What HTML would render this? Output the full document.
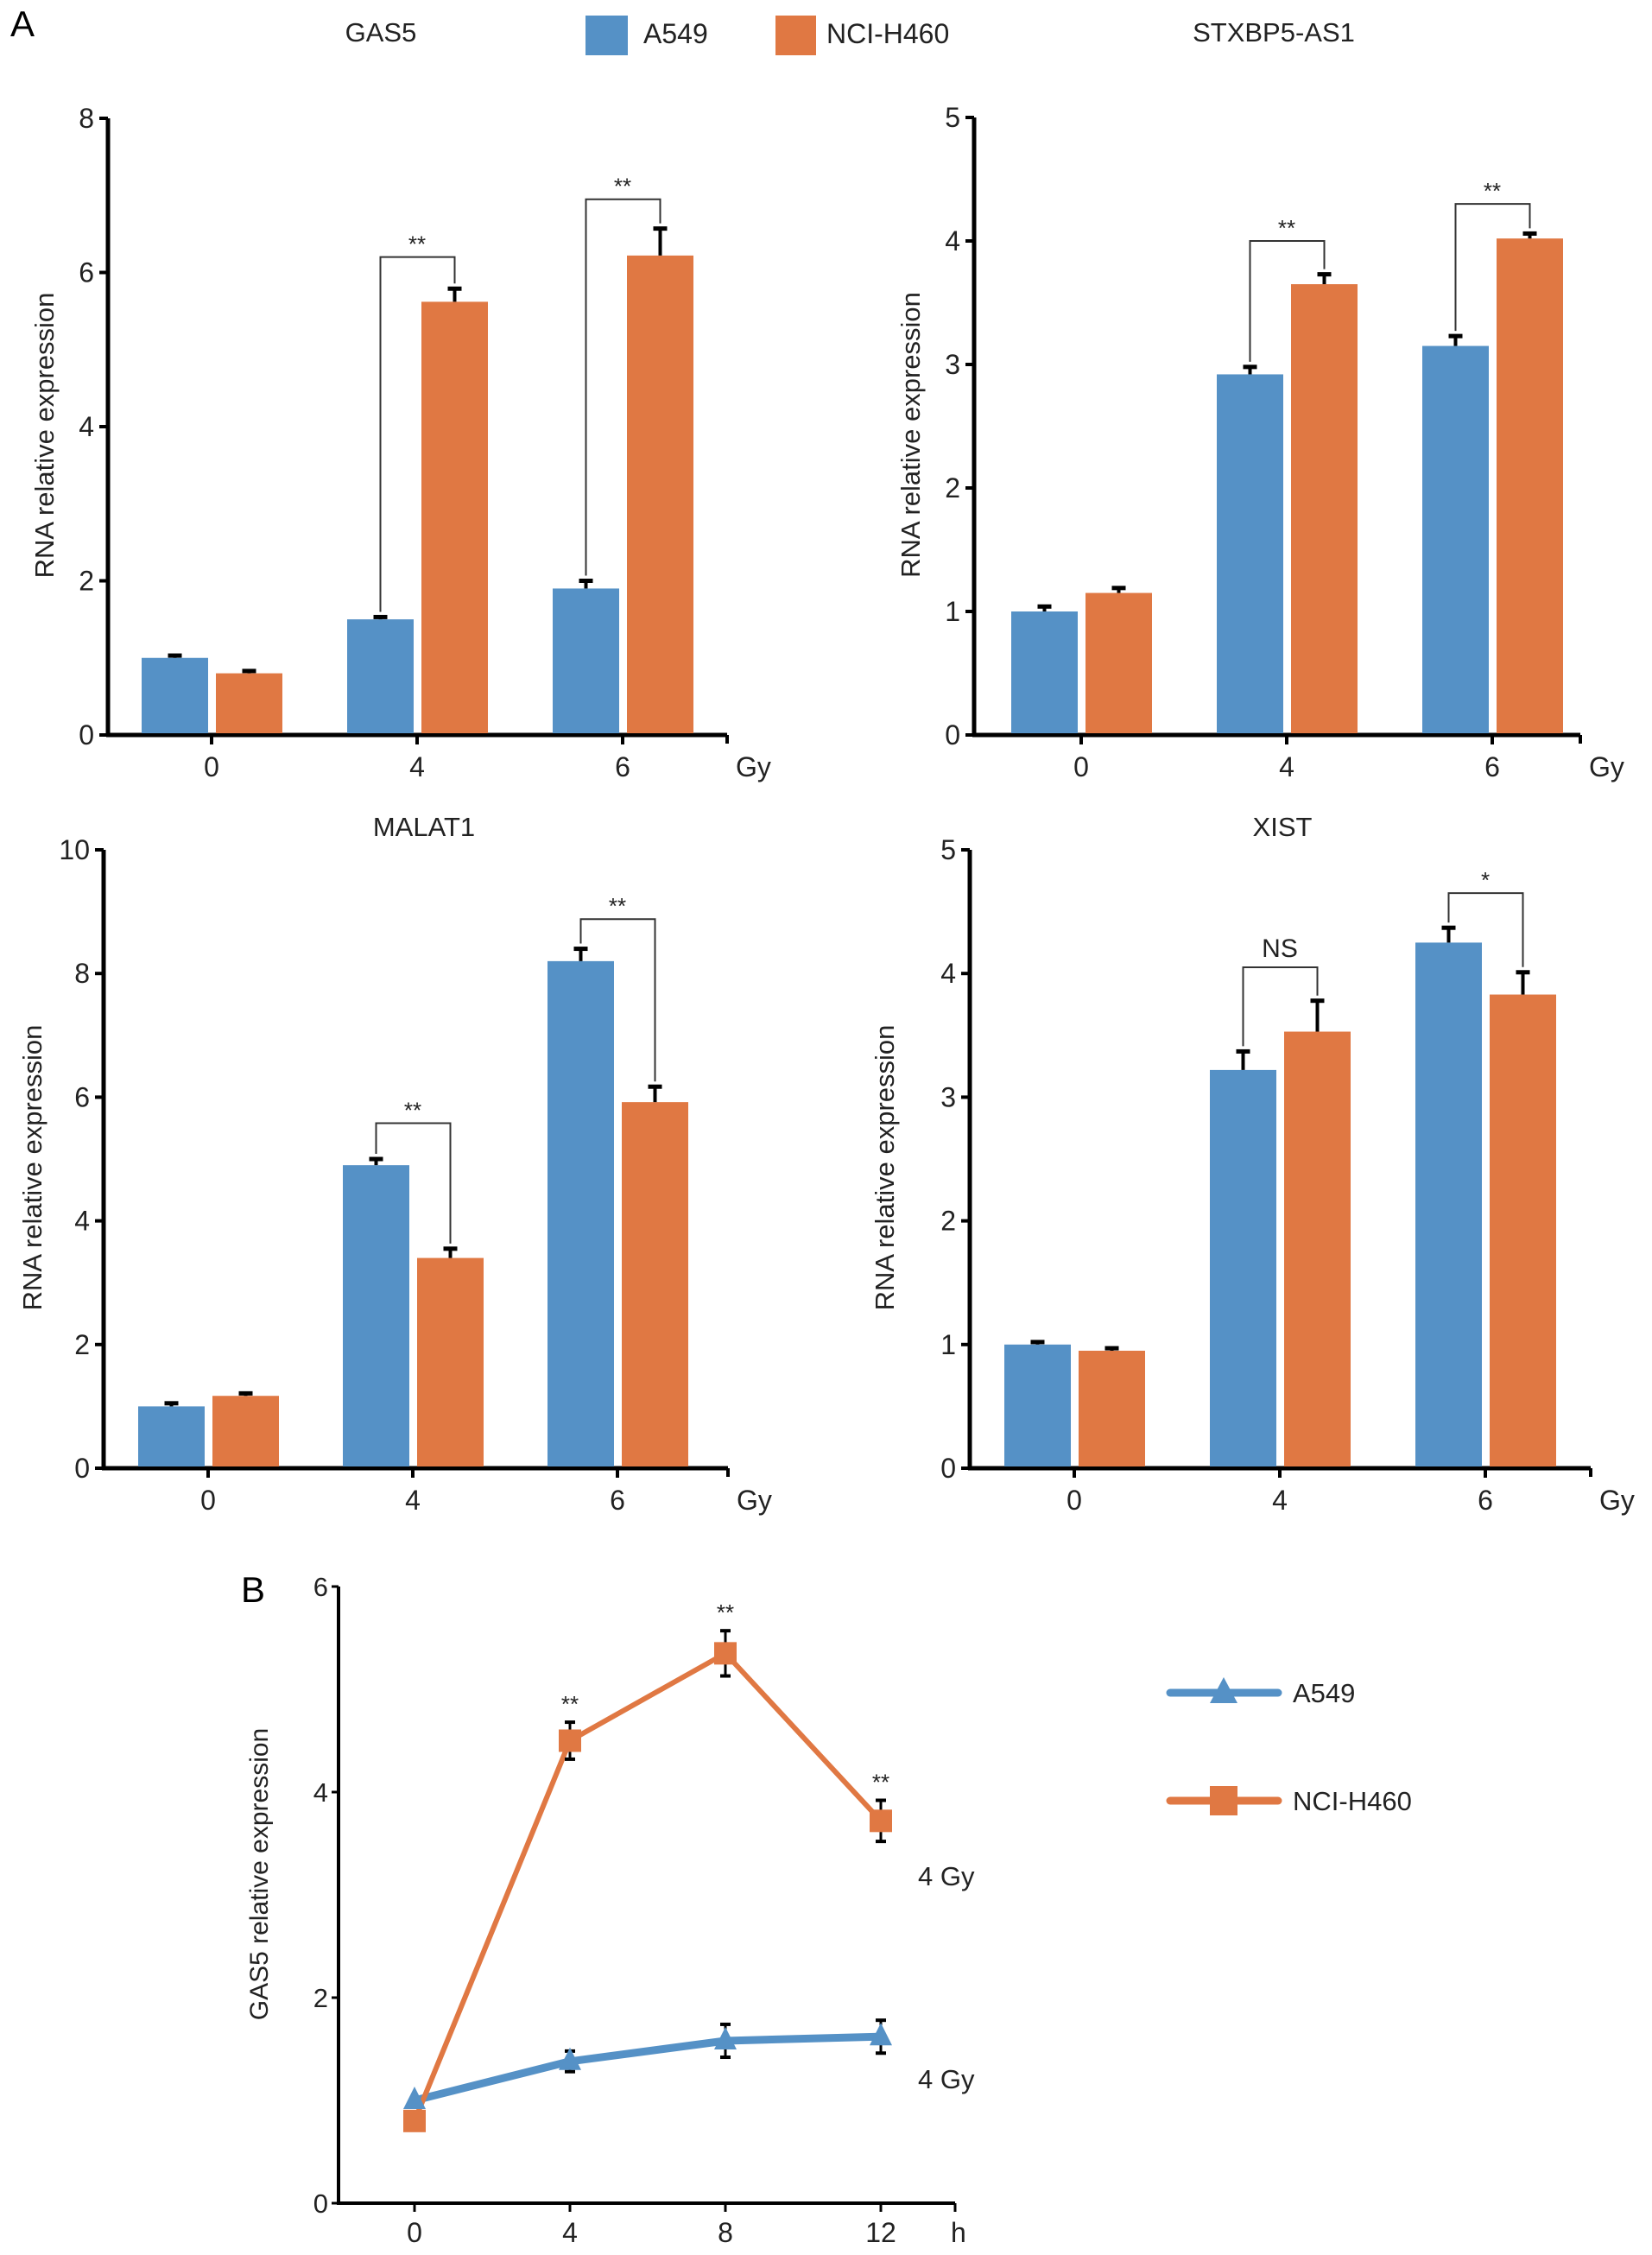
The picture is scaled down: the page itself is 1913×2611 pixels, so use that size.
<!DOCTYPE html>
<html><head><meta charset="utf-8"><style>
html,body{margin:0;padding:0;background:#fff;}
svg{display:block;font-family:"Liberation Sans",Arial,sans-serif;}
</style></head><body>
<svg id="fig" width="1913" height="2611" viewBox="0 0 1913 2611">
<text x="12" y="42" font-size="42">A</text>
<text x="279" y="1855" font-size="42">B</text>
<rect x="678" y="18" width="49" height="46" fill="#5591c6"/>
<text x="745" y="50" font-size="32" fill="#222">A549</text>
<rect x="898" y="18" width="47" height="46" fill="#e07843"/>
<text x="957" y="50" font-size="32" fill="#222">NCI-H460</text>
</svg>
<script>
// ---- Panel A data ----
const categories = ["0", "4", "6"];
const gas5A549 = [1.0, 1.5, 1.9];
const gas5A549Err = [0.03, 0.03, 0.1];
const gas5Nci = [0.8, 5.62, 6.22];
const gas5NciErr = [0.03, 0.17, 0.35];
const stxA549 = [1.0, 2.92, 3.15];
const stxA549Err = [0.04, 0.06, 0.08];
const stxNci = [1.15, 3.65, 4.02];
const stxNciErr = [0.04, 0.08, 0.04];
const malA549 = [1.0, 4.9, 8.2];
const malA549Err = [0.05, 0.1, 0.2];
const malNci = [1.17, 3.4, 5.92];
const malNciErr = [0.04, 0.15, 0.25];
const xistA549 = [1.0, 3.22, 4.25];
const xistA549Err = [0.02, 0.15, 0.12];
const xistNci = [0.95, 3.53, 3.83];
const xistNciErr = [0.02, 0.25, 0.18];
const gas5Ticks = [0, 2, 4, 6, 8];
const stxTicks = [0, 1, 2, 3, 4, 5];
const malTicks = [0, 2, 4, 6, 8, 10];
const xistTicks = [0, 1, 2, 3, 4, 5];
// brackets: category index, top value, label
const gas5Sig = [[1, 6.2, "**"], [2, 6.95, "**"]];
const stxSig = [[1, 4.0, "**"], [2, 4.3, "**"]];
const malSig = [[1, 5.58, "**"], [2, 8.88, "**"]];
const xistSig = [[1, 4.05, "NS"], [2, 4.65, "*"]];
// ---- Panel B data ----
const hours = [0, 4, 8, 12];
const bTicks = [0, 2, 4, 6];
const lineNci = [0.8, 4.5, 5.35, 3.72];
const lineNciErr = [0, 0.18, 0.22, 0.2];
const lineA549 = [1.0, 1.38, 1.58, 1.62];
const lineA549Err = [0, 0.1, 0.16, 0.16];
const lineSig = ["", "**", "**", "**"];

const NS = "http://www.w3.org/2000/svg";
const svg = document.getElementById("fig");
function mk(tag, attrs, parent) {
  const e = document.createElementNS(NS, tag);
  for (const k in attrs) e.setAttribute(k, attrs[k]);
  (parent || svg).appendChild(e);
  return e;
}
const BLUE = "#5591c6", ORANGE = "#e07843";

function barPanel(p) {
  const g = mk("g", {});
  
  
  const y = v => p.y0 - (v / p.max) * (p.y0 - p.yTop);
  const cx = i => p.c0 + i * p.step;
  mk("line", {x1: p.ax, y1: p.yTop, x2: p.ax, y2: p.y0 + 2, stroke: "#000", "stroke-width": 5}, g);
  mk("line", {x1: p.ax - 2, y1: p.y0, x2: p.xEnd, y2: p.y0, stroke: "#000", "stroke-width": 5}, g);
  mk("line", {x1: p.xEnd, y1: p.y0, x2: p.xEnd, y2: p.y0 + 10, stroke: "#000", "stroke-width": 4}, g);
  p.ticks.forEach(t => {
    mk("line", {x1: p.ax - 10, y1: y(t), x2: p.ax, y2: y(t), stroke: "#000", "stroke-width": 4}, g);
    const tx = mk("text", {x: p.ax - 16, y: y(t) + 11, "font-size": 32, "text-anchor": "end", fill: "#222"}, g);
    tx.textContent = t;
    
    
  });
  categories.forEach((c, i) => {
    mk("line", {x1: cx(i), y1: p.y0, x2: cx(i), y2: p.y0 + 11, stroke: "#000", "stroke-width": 4}, g);
    const tx = mk("text", {x: cx(i), y: p.y0 + 48, "font-size": 32, "text-anchor": "middle", fill: "#222"}, g);
    tx.textContent = c;
    
    
    [[p.a, p.ae, BLUE, -81, 'bar-a549'], [p.n, p.ne, ORANGE, 5, 'bar-nci-h460']].forEach(([vals, errs, col, off, nm]) => {
      const v = vals[i], e = errs[i], bx = cx(i) + off;
      const r = mk("rect", {x: bx, y: y(v), width: 77, height: p.y0 - y(v) - 2, fill: col}, g);
      
      
      const m = bx + 38.5;
      mk("line", {x1: m, y1: y(v), x2: m, y2: y(v + e), stroke: "#000", "stroke-width": 4}, g);
      mk("line", {x1: m - 8, y1: y(v + e), x2: m + 8, y2: y(v + e), stroke: "#000", "stroke-width": 5}, g);
    });
  });
  p.sig.forEach(([i, top, lab]) => {
    const l = cx(i) - 42.5, r = cx(i) + 43.5;
    const la = y(p.a[i] + p.ae[i]) - 6, ra = y(p.n[i] + p.ne[i]) - 6;
    const pl = mk("polyline", {points: `${l},${la} ${l},${y(top)} ${r},${y(top)} ${r},${ra}`, fill: "none", stroke: "#333", "stroke-width": 2}, g);
    
    
    const t = mk("text", {x: cx(i), y: y(top) - (lab === "NS" ? 12 : 6), "font-size": lab === "NS" ? 30 : 26, "text-anchor": "middle", fill: "#222"}, g);
    t.textContent = lab;
    
    
  });
  const gy = mk("text", {x: p.xEnd + 10, y: p.y0 + 48, "font-size": 32, fill: "#222"}, g);
  gy.textContent = "Gy";
  
  
  const ti = mk("text", {x: p.tx, y: p.ty, "font-size": 31, "text-anchor": "middle", fill: "#222"}, g);
  ti.textContent = p.title;
  
  
  const yl = mk("text", {x: 0, y: 0, "font-size": 31, "text-anchor": "middle", fill: "#222", transform: `translate(${p.ylx},${(p.yTop + p.y0) / 2 + 10}) rotate(-90)`}, g);
  yl.textContent = "RNA relative expression";
  
  
}

barPanel({name: "gas5", title: "GAS5", tx: 441, ty: 48, ax: 125, yTop: 137, y0: 851, xEnd: 842, c0: 245, step: 238, max: 8, ticks: gas5Ticks, a: gas5A549, ae: gas5A549Err, n: gas5Nci, ne: gas5NciErr, sig: gas5Sig, ylx: 62});
barPanel({name: "stxbp5", title: "STXBP5-AS1", tx: 1475, ty: 48, ax: 1128, yTop: 136, y0: 851, xEnd: 1830, c0: 1252, step: 238, max: 5, ticks: stxTicks, a: stxA549, ae: stxA549Err, n: stxNci, ne: stxNciErr, sig: stxSig, ylx: 1065});
barPanel({name: "malat1", title: "MALAT1", tx: 491, ty: 968, ax: 120, yTop: 984, y0: 1700, xEnd: 843, c0: 241, step: 237, max: 10, ticks: malTicks, a: malA549, ae: malA549Err, n: malNci, ne: malNciErr, sig: malSig, ylx: 48});
barPanel({name: "xist", title: "XIST", tx: 1485, ty: 968, ax: 1123, yTop: 984, y0: 1700, xEnd: 1842, c0: 1244, step: 238, max: 5, ticks: xistTicks, a: xistA549, ae: xistA549Err, n: xistNci, ne: xistNciErr, sig: xistSig, ylx: 1035});

// ---- Panel B ----
(function () {
  const g = mk("g", {});
  
  
  const ax = 392, yTop = 1837, y0 = 2551, xEnd = 1106;
  const y = v => y0 - (v / 6) * (y0 - yTop);
  const x = h => 480 + (h / 12) * (1020 - 480);
  mk("line", {x1: ax, y1: yTop, x2: ax, y2: y0 + 2, stroke: "#000", "stroke-width": 4}, g);
  mk("line", {x1: ax - 2, y1: y0, x2: xEnd, y2: y0, stroke: "#000", "stroke-width": 4}, g);
  mk("line", {x1: xEnd, y1: y0, x2: xEnd, y2: y0 + 10, stroke: "#000", "stroke-width": 3}, g);
  bTicks.forEach(t => {
    mk("line", {x1: ax - 8, y1: y(t), x2: ax, y2: y(t), stroke: "#000", "stroke-width": 3}, g);
    const tx = mk("text", {x: ax - 12, y: y(t) + 11, "font-size": 31, "text-anchor": "end", fill: "#222"}, g);
    tx.textContent = t;
    
    
  });
  hours.forEach(h => {
    mk("line", {x1: x(h), y1: y0, x2: x(h), y2: y0 + 10, stroke: "#000", "stroke-width": 3}, g);
    const tx = mk("text", {x: x(h), y: y0 + 45, "font-size": 32, "text-anchor": "middle", fill: "#222"}, g);
    tx.textContent = h;
    
    
  });
  const hl = mk("text", {x: 1101, y: y0 + 45, "font-size": 32, fill: "#222"}, g);
  hl.textContent = "h";
  
  
  const yl = mk("text", {x: 0, y: 0, "font-size": 30, "text-anchor": "middle", fill: "#222", transform: `translate(310,2170) rotate(-90)`}, g);
  yl.textContent = "GAS5 relative expression";
  
  
  const a = mk("polyline", {points: hours.map((h, i) => `${x(h)},${y(lineA549[i])}`).join(" "), fill: "none", stroke: BLUE, "stroke-width": 9, "stroke-linejoin": "round"}, g);
  
  
  const n = mk("polyline", {points: hours.map((h, i) => `${x(h)},${y(lineNci[i])}`).join(" "), fill: "none", stroke: ORANGE, "stroke-width": 6}, g);
  
  
  hours.forEach((h, i) => {
    [[lineA549, lineA549Err], [lineNci, lineNciErr]].forEach(([v, e]) => {
      if (e[i] > 0) {
        mk("line", {x1: x(h), y1: y(v[i] - e[i]), x2: x(h), y2: y(v[i] + e[i]), stroke: "#000", "stroke-width": 3}, g);
        mk("line", {x1: x(h) - 6, y1: y(v[i] - e[i]), x2: x(h) + 6, y2: y(v[i] - e[i]), stroke: "#000", "stroke-width": 4}, g);
        mk("line", {x1: x(h) - 6, y1: y(v[i] + e[i]), x2: x(h) + 6, y2: y(v[i] + e[i]), stroke: "#000", "stroke-width": 4}, g);
      }
    });
    const tr = mk("polygon", {points: `${x(h)},${y(lineA549[i]) - 16} ${x(h) - 13},${y(lineA549[i]) + 10} ${x(h) + 13},${y(lineA549[i]) + 10}`, fill: BLUE}, g);
    
    
    const sq = mk("rect", {x: x(h) - 13, y: y(lineNci[i]) - 13, width: 26, height: 26, fill: ORANGE}, g);
    
    
    if (lineSig[i]) {
      const s = mk("text", {x: x(h), y: y(lineNci[i] + lineNciErr[i]) - 12, "font-size": 26, "text-anchor": "middle", fill: "#222"}, g);
      s.textContent = lineSig[i];
      
      
    }
  });
  [[2183, "4 Gy"], [2418, "4 Gy"]].forEach(([yy, t]) => {
    const tx = mk("text", {x: 1063, y: yy, "font-size": 31, fill: "#222"}, g);
    tx.textContent = t;
    
    
  });
  mk("line", {x1: 1355, y1: 1960, x2: 1480, y2: 1960, stroke: BLUE, "stroke-width": 9, "stroke-linecap": "round"}, g);
  const lt = mk("polygon", {points: "1417,1942 1401,1972 1433,1972", fill: BLUE}, g);
  
  
  const la = mk("text", {x: 1497, y: 1971, "font-size": 31, fill: "#222"}, g);
  la.textContent = "A549";
  
  
  mk("line", {x1: 1355, y1: 2085, x2: 1480, y2: 2085, stroke: ORANGE, "stroke-width": 9, "stroke-linecap": "round"}, g);
  const ls = mk("rect", {x: 1401, y: 2068, width: 32, height: 34, fill: ORANGE}, g);
  
  
  const ln = mk("text", {x: 1497, y: 2096, "font-size": 31, fill: "#222"}, g);
  ln.textContent = "NCI-H460";
  
  
})();
</script>
</body></html>
